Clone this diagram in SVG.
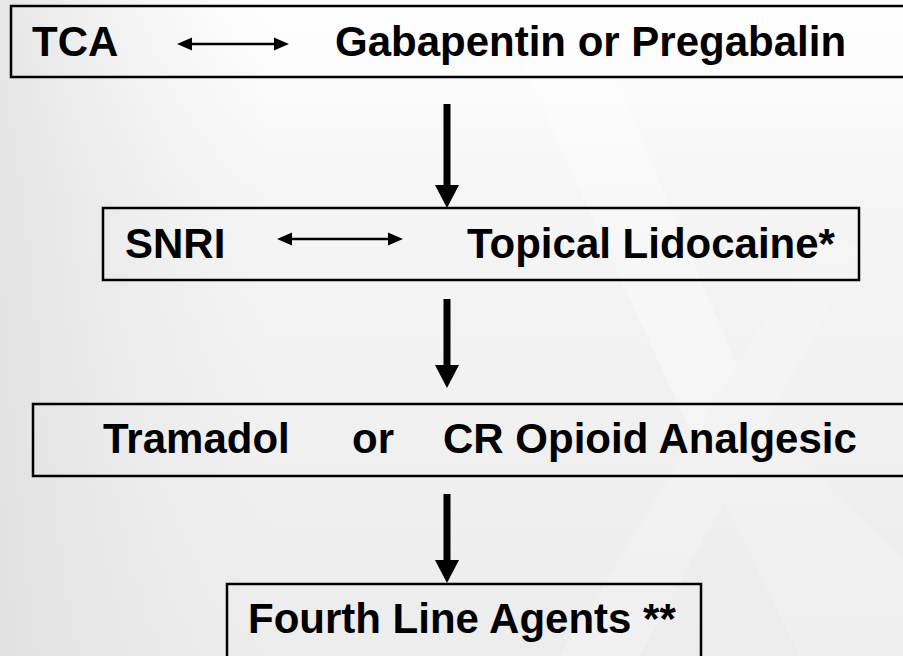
<svg xmlns="http://www.w3.org/2000/svg" width="903" height="656" viewBox="0 0 903 656">
<defs>
<linearGradient id="bg" x1="0" y1="0" x2="0" y2="1">
<stop offset="0" stop-color="#ffffff"/>
<stop offset="0.3" stop-color="#f5f5f5"/>
<stop offset="1" stop-color="#ececec"/>
</linearGradient>
<linearGradient id="side" x1="0" y1="0" x2="1" y2="0">
<stop offset="0" stop-color="#dcdcdc" stop-opacity="0.7"/>
<stop offset="0.3" stop-color="#e8e8e8" stop-opacity="0"/>
</linearGradient>
<style>
.box{fill:none;stroke:#000;stroke-width:2.5}
.t{font-family:"Liberation Sans",Arial,sans-serif;font-weight:bold;font-size:42px;fill:#000}
.thin{stroke:#000;stroke-width:2.5;fill:none}
.thick{stroke:#000;stroke-width:7;fill:none}
.head{fill:#000}
</style>
</defs>
<rect x="0" y="0" width="903" height="656" fill="url(#bg)"/>
<rect x="0" y="0" width="903" height="656" fill="url(#side)"/>
<g opacity="0.35">
<polygon points="520,60 600,40 760,420 690,430" fill="#ffffff"/>
<polygon points="690,430 760,420 903,560 903,656 800,656" fill="#f7f7f7"/>
<polygon points="560,656 640,656 860,250 820,230" fill="#f8f8f8"/>
</g>
<g id="node1">
<rect class="box" x="11" y="6" width="910" height="71"/>
<text class="t" x="32" y="56">TCA</text>
<line class="thin" x1="188" y1="44" x2="278" y2="44"/>
<path class="head" d="M177,44 L192,37.5 L192,50.5 Z"/>
<path class="head" d="M289,44 L274,37.5 L274,50.5 Z"/>
<text class="t" x="335" y="56">Gabapentin or Pregabalin</text>
</g>
<g id="node2">
<rect class="box" x="103" y="208" width="756" height="72"/>
<text class="t" x="125" y="258">SNRI</text>
<line class="thin" x1="288" y1="239" x2="392" y2="239"/>
<path class="head" d="M277,239 L292,232.5 L292,245.5 Z"/>
<path class="head" d="M403,239 L388,232.5 L388,245.5 Z"/>
<text class="t" x="467" y="258">Topical Lidocaine*</text>
</g>
<g id="node3">
<rect class="box" x="33" y="404" width="900" height="72"/>
<text class="t" x="103" y="453">Tramadol</text>
<text class="t" x="352" y="453">or</text>
<text class="t" x="443" y="453">CR Opioid Analgesic</text>
</g>
<g id="node4">
<rect class="box" x="227" y="584" width="474" height="90"/>
<text class="t" x="248" y="633">Fourth Line Agents **</text>
</g>
<g id="connectors">
<line class="thick" x1="447" y1="104" x2="447" y2="190"/>
<path class="head" d="M435,185 L459,185 L447,208 Z"/>
<line class="thick" x1="447" y1="299" x2="447" y2="370"/>
<path class="head" d="M435,365 L459,365 L447,388 Z"/>
<line class="thick" x1="447" y1="494" x2="447" y2="564"/>
<path class="head" d="M435,560 L459,560 L447,583 Z"/>
</g>
</svg>
